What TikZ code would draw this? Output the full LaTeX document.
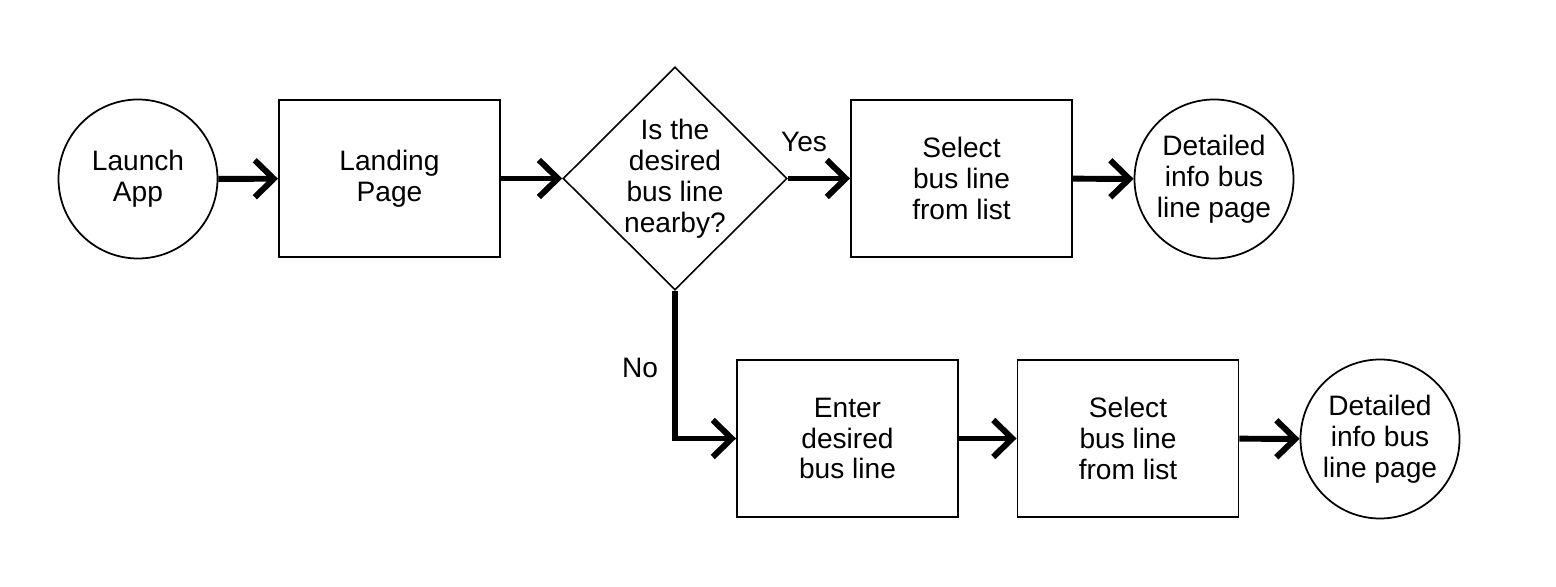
\documentclass[tikz,border=0pt]{standalone}
\usepackage{fontspec}
\setmainfont{Liberation Sans}
\usetikzlibrary{arrows.meta,shapes.geometric}

\begin{document}
\begin{tikzpicture}[
    every node/.style={font=\fontsize{16}{17.6}\selectfont, align=center},
    proc/.style={draw, line width=1.1pt, minimum width=4.42cm, minimum height=3.14cm},
    term/.style={draw, circle, line width=1pt, minimum size=3.18cm, inner sep=0pt},
    dec/.style={draw, diamond, aspect=1, line width=0.9pt, inner sep=0pt,
                minimum width=4.48cm, minimum height=4.46cm},
    flow/.style={line width=3.4pt, -{Straight Barb[length=0.38cm, width=0.74cm]}},
    lbl/.style={font=\fontsize{16}{17.6}\selectfont},
]
\useasboundingbox (0,0) rectangle (31.12,11.72);

% ---------- upper row ----------
\node[term] (launch)  at (2.76,8.14)  {Launch\\App};
\node[proc] (landing) at (7.79,8.15)  {Landing\\Page};
\node[dec]  (nearby)  at (13.5,8.15)  {Is the\\desired\\bus line\\nearby?};
\node[proc] (pickA)   at (19.23,8.15) {Select\\bus line\\from list};
\node[term] (infoA)   at (24.28,8.14) {Detailed\\info bus\\line page};

% ---------- lower row ----------
\node[proc] (enter)   at (16.95,2.95) {Enter\\desired\\bus line};
\node[proc] (pickB)   at (22.56,2.95) {Select\\bus line\\from list};
\node[term] (infoB)   at (27.6,2.94)  {Detailed\\info bus\\line page};

% answers
\node[lbl] (yes) at (16.08,8.88) {Yes};
\node[lbl] (no)  at (12.8,4.36)  {No};

% ---------- connectors ----------
\draw[flow] (launch)  -- (landing);
\draw[flow] (landing) -- (nearby);
\draw[flow] (nearby)  -- (pickA);
\draw[flow] (pickA)   -- (infoA);
\draw[flow] (nearby.south) |- (enter.west);
\draw[flow] (enter)   -- (pickB);
\draw[flow] (pickB)   -- (infoB);

\end{tikzpicture}
\end{document}
